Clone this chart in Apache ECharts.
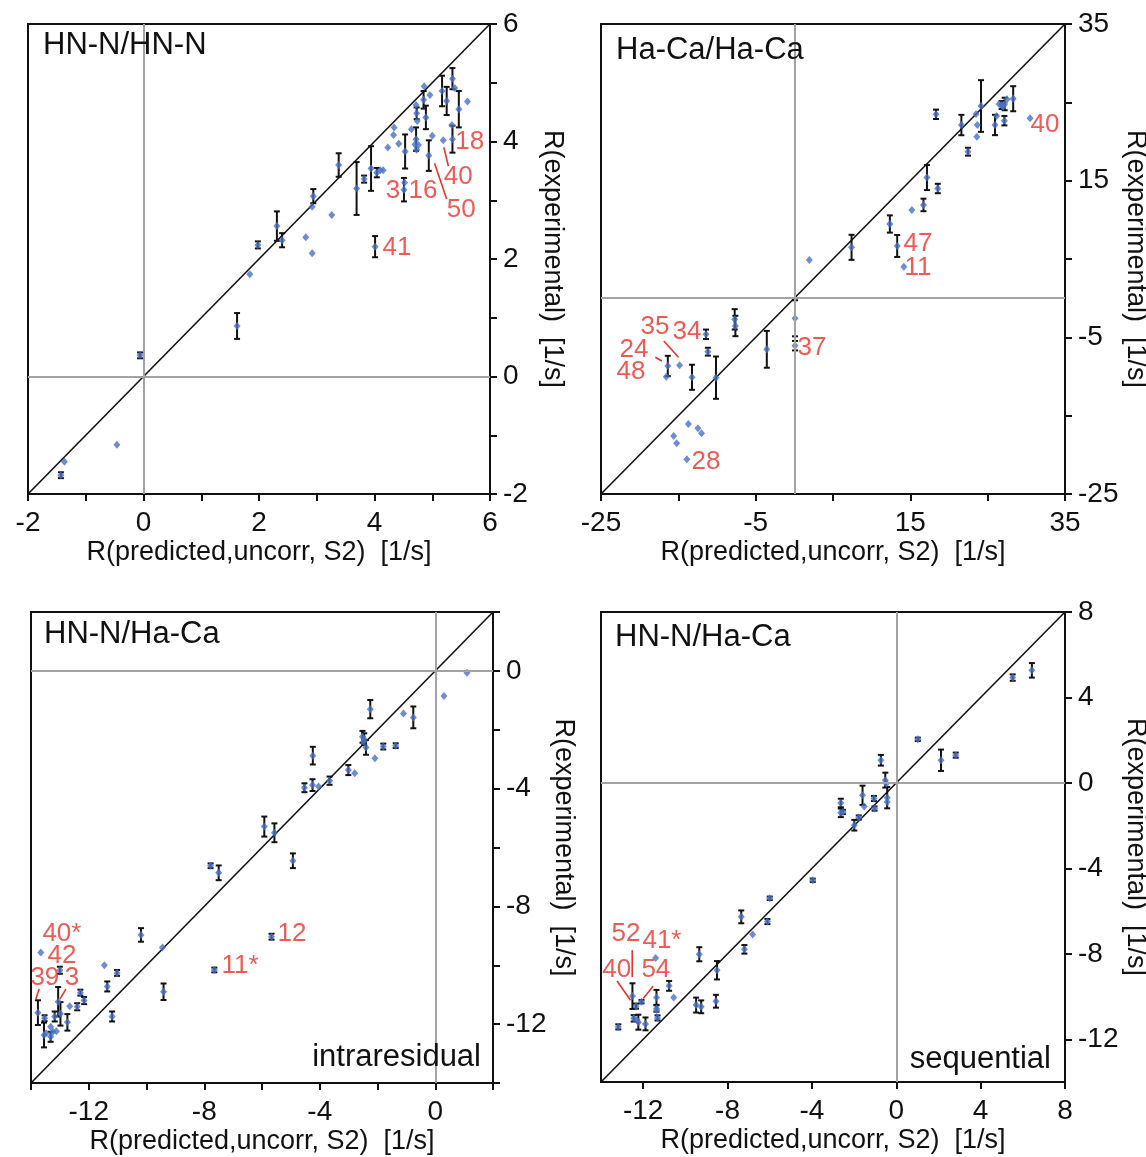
<!DOCTYPE html>
<html><head><meta charset="utf-8">
<script src="https://cdn.jsdelivr.net/npm/echarts@6/dist/echarts.min.js"></script>
<style>html,body{margin:0;padding:0;background:#fff}#c{width:1146px;height:1157px}</style>
</head><body><div id="c"></div>
<script>
// ---------- DATA: [predicted, experimental, error] (error 0 = no bar) ----------
const panel1Points = [
 [-1.43,-1.68,0.05],[-1.37,-1.45,0],[-0.46,-1.16,0],[-0.06,0.36,0.05],[1.62,0.86,0.22],
 [1.84,1.74,0],[1.98,2.24,0.06],[2.31,2.56,0.25],[2.40,2.32,0.12],[2.81,2.37,0],
 [2.92,2.10,0],[2.92,2.89,0],[2.94,3.07,0.12],[3.26,2.75,0],[3.38,3.60,0.2],
 [3.69,3.20,0.45],[3.82,3.36,0.06],[3.94,3.54,0.38],[4.01,2.21,0.18],[4.04,3.47,0.08],
 [4.10,3.51,0],[4.15,3.51,0],[4.23,3.90,0],[4.33,4.11,0],[4.34,4.24,0],
 [4.42,3.96,0],[4.53,3.83,0.29],[4.52,3.30,0],[4.51,3.18,0.2],[4.64,4.21,0],
 [4.72,4.04,0.2],[4.70,3.95,0],[4.76,3.94,0],[4.73,3.86,0],[4.72,4.62,0],
 [4.73,4.48,0.1],[4.74,4.35,0],[4.86,4.94,0],[4.85,4.71,0.15],[4.89,4.41,0.2],
 [4.96,4.79,0],[5.00,4.10,0],[4.94,3.76,0.26],[5.17,4.86,0.26],[5.25,4.69,0.24],
 [5.19,4.02,0],[5.34,4.28,0],[5.35,4.04,0.23],[5.35,5.07,0.18],[5.39,4.91,0],
 [5.46,4.55,0.31],[5.61,4.68,0]
];
const panel2Points = [
 [-13.9,-20.57,0],[-15.22,-18.53,0],[-15.6,-17.6,0],[-13.7,-16.06,0],[-12.47,-16.6,0],
 [-12.0,-17.25,0],[-16.56,-10.02,0],[-16.36,-8.66,1.3],[-14.84,-8.57,0],[-13.23,-10.1,1.6],
 [-11.42,-4.61,0.6],[-11.18,-6.83,0.5],[-10.13,-10.15,2.7],[-7.71,-2.7,1.3],[-7.62,-3.55,1.3],
 [-3.56,-6.53,2.35],[0.09,-2.57,2.3],[0.09,-6.07,0.6],[1.94,4.87,0],[7.4,6.49,1.6],
 [12.35,9.47,1.1],[13.3,6.66,1.4],[14.16,4.02,0],[15.2,11.25,0],[16.7,11.9,0.8],
 [17.15,15.4,1.6],[18.55,14.0,0.6],[18.32,23.47,0.6],[21.6,22.1,1.3],[22.46,18.70,0.5],
 [23.5,23.5,0],[23.66,22.1,0],[23.6,20.6,0],[24.14,24.53,3.3],[25.95,22.11,1.3],
 [26.17,23.26,0],[26.47,24.79,0],[26.8,24.66,0.5],[27.0,24.44,0],[27.2,24.79,0.8],
 [27.5,25.4,0],[27.16,22.66,0.6],[28.3,25.46,1.6],[30.48,22.96,0]
];
const panel3Points = [
 [1.10,-0.06,0],[0.30,-0.85,0],[-0.76,-1.58,0.37],[-1.10,-1.45,0],[-1.37,-2.54,0.08],
 [-1.80,-2.57,0.1],[-2.09,-2.97,0],[-2.25,-1.30,0.31],[-2.40,-2.60,0.25],[-2.52,-2.24,0.2],
 [-2.46,-2.32,0.2],[-2.48,-2.41,0],[-2.79,-3.48,0],[-3.01,-3.37,0.17],[-3.66,-3.73,0.14],
 [-4.04,-3.93,0],[-4.25,-3.88,0.2],[-4.53,-3.97,0.15],[-4.24,-2.88,0.3],[-5.92,-5.29,0.34],
 [-5.57,-5.50,0.32],[-4.93,-6.45,0.25],[-7.78,-6.62,0.08],[-7.50,-6.86,0.25],[-10.19,-8.97,0.23],
 [-9.45,-9.40,0],[-5.67,-9.03,0.1],[-7.65,-10.16,0.08],[-9.41,-10.90,0.28],[-13.66,-9.57,0],
 [-11.46,-10.0,0],[-11.02,-10.26,0.1],[-11.36,-10.72,0.17],[-11.19,-11.74,0.17],[-13.0,-10.17,0.12],
 [-13.76,-11.61,0.42],[-13.53,-11.80,0.1],[-13.55,-12.37,0.42],[-13.47,-12.31,0],[-13.32,-12.09,0],
 [-13.32,-12.43,0.17],[-13.24,-12.26,0],[-13.12,-12.24,0],[-13.18,-11.74,0.17],[-13.06,-11.24,0.5],
 [-12.98,-11.65,0.4],[-12.74,-11.94,0.28],[-12.66,-11.39,0],[-12.40,-11.41,0.12],[-12.29,-10.93,0.1],
 [-12.16,-11.20,0.12]
];
const panel4Points = [
 [6.43,5.27,0.34],[5.52,4.93,0.15],[1.02,2.04,0.08],[2.12,1.06,0.5],[2.82,1.30,0.12],
 [-0.73,1.06,0.25],[-0.52,0.13,0.35],[-0.47,-0.03,0],[-0.43,-0.69,0.5],[-0.43,-0.89,0],
 [-1.06,-0.73,0.12],[-1.03,-1.20,0.1],[-1.60,-0.58,0.45],[-1.52,-1.10,0],[-1.78,-1.62,0.1],
 [-1.99,-1.98,0.25],[-2.63,-0.94,0.2],[-2.63,-1.40,0.2],[-2.53,-1.36,0.1],[-3.96,-4.56,0.08],
 [-6.0,-5.40,0.08],[-7.35,-6.27,0.3],[-6.11,-6.49,0.12],[-6.81,-7.09,0],[-7.20,-7.79,0.2],
 [-9.34,-8.02,0.33],[-8.50,-8.77,0.43],[-8.55,-10.22,0.3],[-9.49,-10.40,0.35],[-9.25,-10.48,0.3],
 [-10.77,-9.50,0.23],[-10.55,-10.04,0],[-11.41,-8.19,0],[-11.37,-10.04,0.35],[-11.37,-10.56,0.15],
 [-11.36,-10.64,0],[-11.32,-11.0,0.12],[-12.08,-10.24,0.08],[-12.51,-9.98,0.6],[-12.34,-10.45,0.12],
 [-12.45,-11.02,0.15],[-12.30,-11.10,0],[-12.23,-11.20,0.35],[-11.89,-11.28,0.3],[-13.18,-11.42,0.12]
];
// residue labels: [x, y, text] in data units; leader lines: [x1, y1, x2, y2]
const panel1Labels = [[5.65,3.99,'18'],[5.45,3.40,'40'],[4.32,3.16,'3'],[4.84,3.16,'16'],[5.50,2.83,'50'],[4.39,2.19,'41']];
const panel1Leaders = [[5.20,3.90,5.28,3.58],[5.04,3.63,5.25,3.02]];
const panel2Labels = [[32.42,22.11,'40'],[15.99,6.92,'47'],[15.99,3.85,'11'],[-18.02,-3.68,'35'],[-13.88,-4.32,'34'],[-20.73,-6.62,'24'],[-21.12,-9.42,'48'],[2.29,-6.36,'37'],[-11.42,-20.91,'28']];
const panel2Leaders = [[-17.98,-7.55,-17.13,-8.02],[-16.88,-5.47,-14.98,-7.55]];
const panel3Labels = [[-12.93,-8.94,'40*'],[-12.93,-9.68,'42'],[-13.52,-10.43,'39'],[-12.58,-10.43,'3'],[-6.76,-10.02,'11*'],[-4.96,-8.94,'12']];
const panel3Leaders = [[-13.83,-11.15,-13.72,-10.81],[-13.0,-11.15,-12.79,-10.81]];
const panel4Labels = [[-12.82,-7.08,'52'],[-11.11,-7.41,'41*'],[-13.25,-8.77,'40'],[-11.40,-8.77,'54']];
const panel4Leaders = [[-12.52,-7.83,-12.52,-9.09],[-13.24,-9.27,-12.6,-10.17],[-11.53,-9.52,-12.0,-10.09]];
// axis ranges and tick / label values
const panel1Axis = {min:-2, max:6, ticks:[-2,-1,0,1,2,3,4,5,6], labels:[-2,0,2,4,6]};
const panel2Axis = {min:-25, max:35, ticks:[-25,-15,-5,5,15,25,35], labels:[-25,-5,15,35]};
const panel3Axis = {min:-14, max:2, ticks:[-14,-12,-10,-8,-6,-4,-2,0,2], labels:[-12,-8,-4,0]};
const panel4Axis = {min:-14, max:8, ticks:[-12,-8,-4,0,4,8], labels:[-12,-8,-4,0,4,8]};
const panelTitles = ['HN-N/HN-N','Ha-Ca/Ha-Ca','HN-N/Ha-Ca','HN-N/Ha-Ca'];
const xName = 'R(predicted,uncorr, S2)  [1/s]';
const yName = 'R(experimental)  [1/s]';

// ---------- LAYOUT ----------
const FONT = "'Liberation Sans', Arial, Helvetica, sans-serif";
const grids = [
 {left:28, top:24, width:462, height:470},
 {left:601, top:24, width:464, height:470},
 {left:31, top:612, width:462, height:471},
 {left:601, top:612, width:464, height:470}
];
const panels = [
 {pts:panel1Points, labels:panel1Labels, leaders:panel1Leaders, ax:panel1Axis},
 {pts:panel2Points, labels:panel2Labels, leaders:panel2Leaders, ax:panel2Axis},
 {pts:panel3Points, labels:panel3Labels, leaders:panel3Leaders, ax:panel3Axis},
 {pts:panel4Points, labels:panel4Labels, leaders:panel4Leaders, ax:panel4Axis}
];

const option = {
 animation:false, backgroundColor:'#fff',
 grid: grids.map(g => Object.assign({show:true, borderColor:'#111', borderWidth:2, backgroundColor:'transparent',
   containLabel:false, outerBoundsMode:'none'}, g)),
 xAxis:[], yAxis:[], series:[], graphic:[]
};

const tickStyle = {lineStyle:{color:'#111', width:2}, length:7, inside:false};
panels.forEach((p, i) => {
 const ax = p.ax;
 option.xAxis.push({
  type:'value', gridIndex:i, min:ax.min, max:ax.max, position:'bottom',
  splitLine:{show:false},
  axisLine:{show:true, onZero:false, lineStyle:{color:'#111', width:2}},
  axisTick:Object.assign({show:true, customValues:ax.ticks}, tickStyle),
  axisLabel:{show:true, customValues:ax.labels, margin:15, fontSize:28, color:'#111', fontFamily:FONT,
             showMinLabel:true, showMaxLabel:true, hideOverlap:false},
  name:xName, nameLocation:'middle', nameGap:45,
  nameTextStyle:{fontSize:27, color:'#111', fontFamily:FONT}
 });
 option.yAxis.push({
  type:'value', gridIndex:i, min:ax.min, max:ax.max, position:'right',
  splitLine:{show:false},
  axisLine:{show:true, onZero:false, lineStyle:{color:'#111', width:2}},
  axisTick:Object.assign({show:true, customValues:ax.ticks}, tickStyle),
  axisLabel:{show:true, customValues:ax.labels, margin:13, fontSize:28, color:'#111', fontFamily:FONT,
             showMinLabel:true, showMaxLabel:true, hideOverlap:false},
  name:yName, nameLocation:'middle', nameRotate:-90, nameGap:49,
  nameTextStyle:{fontSize:27, color:'#111', fontFamily:FONT}
 });
 // zero reference lines
 option.series.push({
  type:'line', xAxisIndex:i, yAxisIndex:i, data:[], z:1, silent:true,
  markLine:{symbol:'none', silent:true, animation:false, label:{show:false},
   lineStyle:{color:'#a3a3a3', width:2, type:'solid'}, data:[{xAxis:0},{yAxis:0}]}
 });
 // identity diagonal
 option.series.push({
  type:'line', xAxisIndex:i, yAxisIndex:i, z:2, silent:true, symbol:'none',
  data:[[ax.min, ax.min],[ax.max, ax.max]],
  lineStyle:{color:'#111', width:1.6}
 });
 // error bars
 option.series.push({
  type:'custom', xAxisIndex:i, yAxisIndex:i, z:3, silent:true,
  data:p.pts.filter(d => d[2] > 0).map(d => [d[0], d[1]-d[2], d[1]+d[2]]),
  encode:{x:0, y:[1,2]},
  renderItem:(params, api) => {
   const lo = api.coord([api.value(0), api.value(1)]);
   const hi = api.coord([api.value(0), api.value(2)]);
   const w = 3, st = {stroke:'#111', lineWidth:2};
   return {type:'group', children:[
    {type:'line', shape:{x1:lo[0], y1:lo[1], x2:hi[0], y2:hi[1]}, style:st},
    {type:'line', shape:{x1:lo[0]-w, y1:lo[1], x2:lo[0]+w, y2:lo[1]}, style:st},
    {type:'line', shape:{x1:hi[0]-w, y1:hi[1], x2:hi[0]+w, y2:hi[1]}, style:st}
   ]};
  }
 });
 // points
 option.series.push({
  type:'scatter', xAxisIndex:i, yAxisIndex:i, z:4, silent:true,
  symbol:'diamond', symbolSize:[7,8],
  itemStyle:{color:'#4a70c4'},
  data:p.pts.map(d => [d[0], d[1]])
 });
 // leader lines
 option.series.push({
  type:'custom', xAxisIndex:i, yAxisIndex:i, z:5, silent:true,
  data:p.leaders, encode:{x:[0,2], y:[1,3]},
  renderItem:(params, api) => {
   const a = api.coord([api.value(0), api.value(1)]);
   const b = api.coord([api.value(2), api.value(3)]);
   return {type:'line', shape:{x1:a[0], y1:a[1], x2:b[0], y2:b[1]}, style:{stroke:'#e8322a', lineWidth:1.6}};
  }
 });
 // residue labels
 option.series.push({
  type:'scatter', xAxisIndex:i, yAxisIndex:i, z:6, silent:true, symbolSize:1,
  itemStyle:{color:'transparent'},
  data:p.labels.map(l => ({value:[l[0], l[1]], name:l[2]})),
  label:{show:true, position:'inside', formatter:'{b}', color:'#e8322a', fontSize:26, fontFamily:FONT}
 });
});

// panel titles
const titleStyle = {fontSize:31, fill:'#111', fontFamily:FONT, textVerticalAlign:'middle'};
[[43,48],[616,53],[44,637],[615,640]].forEach((pos, i) => {
 option.graphic.push({type:'text', left:pos[0], top:pos[1]-18, z:10,
  style:Object.assign({text:panelTitles[i]}, titleStyle)});
});
option.graphic.push({type:'text', right:1146-481, top:1060-18, z:10, style:Object.assign({text:'intraresidual'}, titleStyle)});
option.graphic.push({type:'text', right:1146-1051, top:1062-18, z:10, style:Object.assign({text:'sequential'}, titleStyle)});

const chart = echarts.init(document.getElementById('c'), null, {renderer:'canvas'});
chart.setOption(option);
</script>
</body></html>
